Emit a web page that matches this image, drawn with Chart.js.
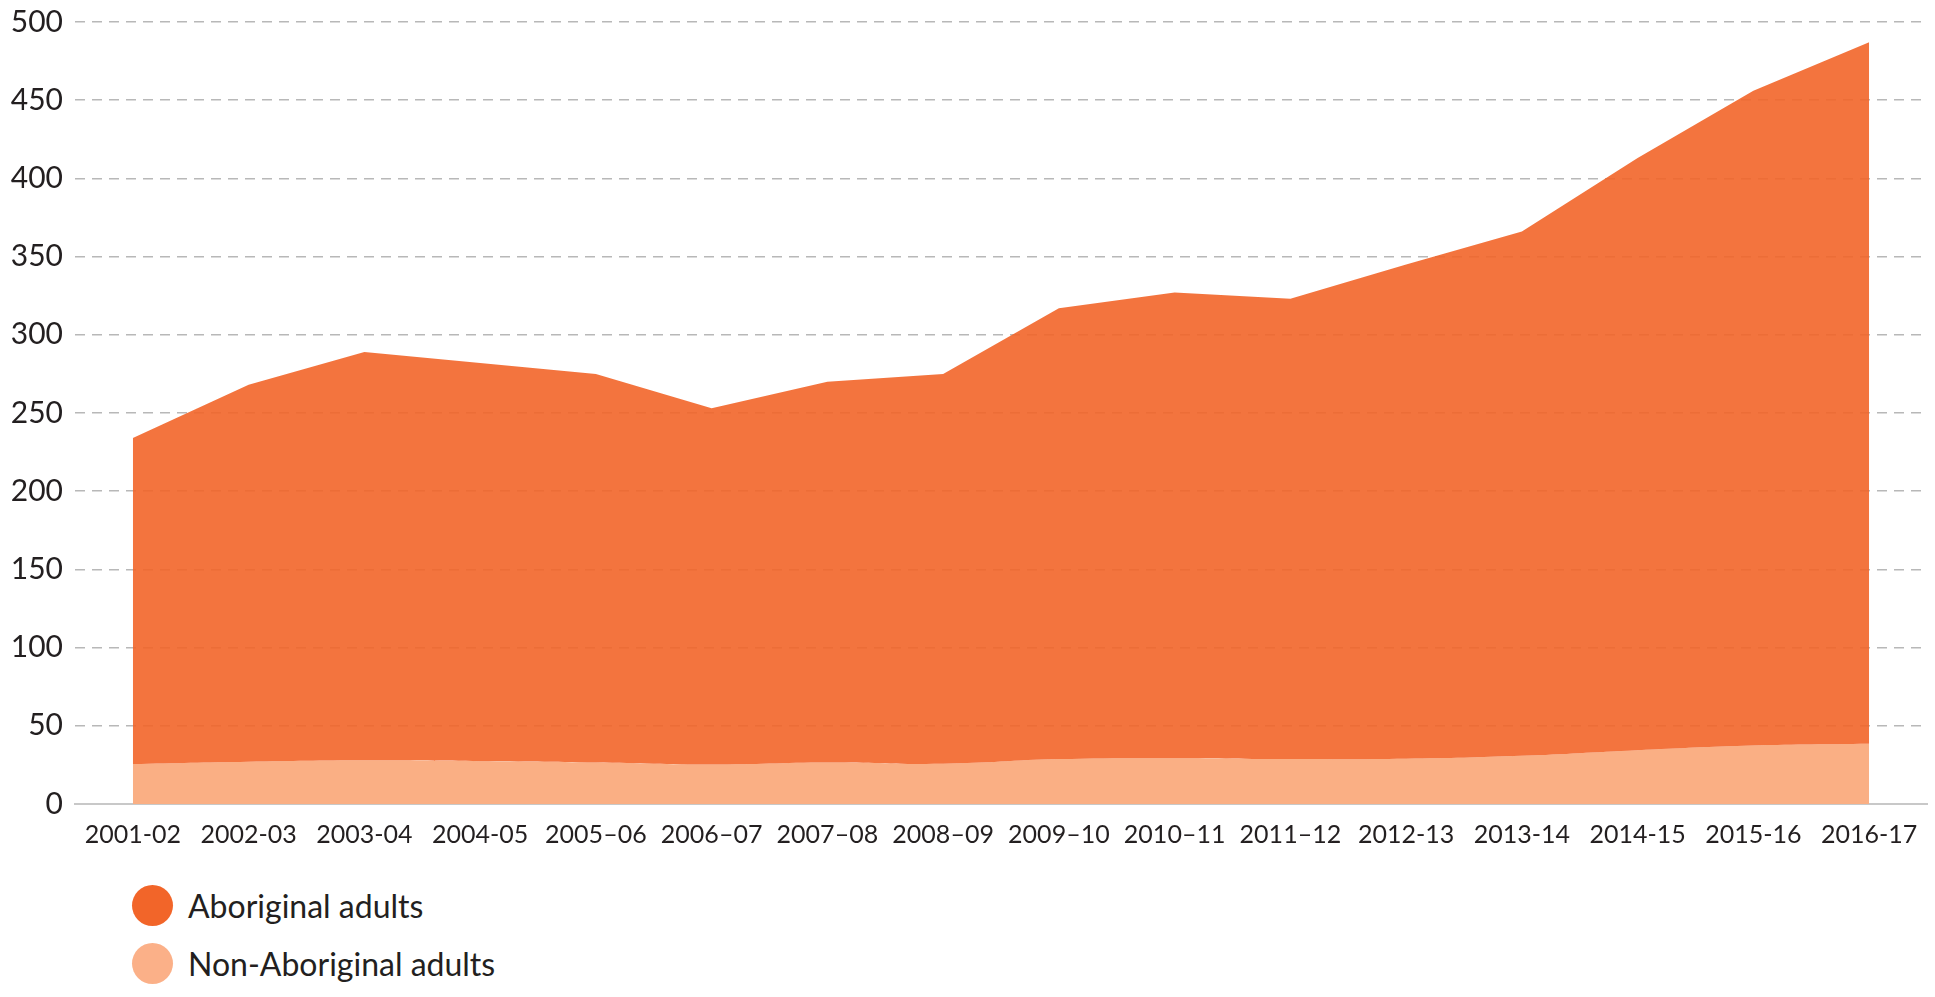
<!DOCTYPE html>
<html>
<head>
<meta charset="utf-8">
<script src="https://cdn.jsdelivr.net/npm/chart.js@4.4.1/dist/chart.umd.min.js"></script>
<style>
  html, body { margin: 0; padding: 0; background: #fff; }
  body { width: 1935px; height: 997px; position: relative; overflow: hidden; font-family: Lato, "Open Sans", sans-serif; }
  .chart-wrap { position: absolute; left: 0; top: -8px; width: 1935px; height: 878px; }
  .legend { position: absolute; left: 132px; top: 885px; }
  .legend-item { display: flex; align-items: center; height: 41px; margin-bottom: 17px; font-size: 32px; color: #231f20; }
  .legend-dot { width: 41px; height: 41px; border-radius: 50%; margin-right: 15px; }
</style>
</head>
<body>
<div class="chart-wrap"><canvas id="chart"></canvas></div>
<div class="legend" id="legend"></div>
<script>
const years = [
  '2001-02', '2002-03', '2003-04', '2004-05', '2005\u201306', '2006\u201307', '2007\u201308', '2008\u201309',
  '2009\u201310', '2010\u201311', '2011\u201312', '2012-13', '2013-14', '2014-15', '2015-16', '2016-17'
];
const aboriginal = [234, 268, 289, 282, 275, 253, 270, 275, 317, 327, 323, 345, 366, 413, 456, 487];
const nonAboriginal = [25.5, 27, 27.9, 27.4, 26.6, 25.3, 26.6, 25.7, 28.7, 29.3, 28.7, 28.9, 30.8, 34.4, 37.4, 38.5];
const yTicks = [0, 50, 100, 150, 200, 250, 300, 350, 400, 450, 500];

const series = [
  { label: 'Aboriginal adults', data: aboriginal, fill: 1, color: 'rgba(242,101,41,0.9)', swatch: '#f26529', tension: 0 },
  { label: 'Non-Aboriginal adults', data: nonAboriginal, fill: 'origin', color: '#faaf84', swatch: '#fbb088', tension: 0.4 }
];

document.getElementById('legend').innerHTML = series.map(s => `
  <div class="legend-item"><span class="legend-dot" style="background:${s.swatch}"></span>${s.label}</div>
`).join('');

const textColor = '#231f20';

new Chart(document.getElementById('chart'), {
  type: 'line',
  data: {
    labels: years,
    datasets: series.map(s => ({
      label: s.label,
      data: s.data,
      fill: s.fill,
      backgroundColor: s.color,
      borderWidth: 0,
      borderColor: 'transparent',
      pointRadius: 0,
      tension: s.tension
    }))
  },
  options: {
    responsive: true,
    maintainAspectRatio: false,
    animation: false,
    layout: { padding: { top: 13, right: 8, left: 0, bottom: 0 } },
    plugins: {
      legend: { display: false },
      tooltip: { enabled: false }
    },
    scales: {
      x: {
        offset: true,
        grid: { display: false, drawTicks: false },
        border: { display: true, color: '#c8c8c8', width: 2 },
        ticks: { color: textColor, font: { family: 'Lato', size: 25 }, padding: 16, maxRotation: 0, autoSkip: false },
        afterFit: (scale) => { scale.height = 66; }
      },
      y: {
        min: 0,
        max: 500,
        afterBuildTicks: (scale) => { scale.ticks = yTicks.map(v => ({ value: v })); },
        grid: {
          drawTicks: false,
          color: (ctx) => ctx.tick && ctx.tick.value === 0 ? 'transparent' : '#b8b8b8',
          lineWidth: 1.5
        },
        border: { display: false, dash: [10, 7] },
        ticks: { color: textColor, font: { family: 'Lato', size: 30 }, padding: 12 },
        afterFit: (scale) => { scale.width = 75; }
      }
    }
  }
});
</script>
</body>
</html>
